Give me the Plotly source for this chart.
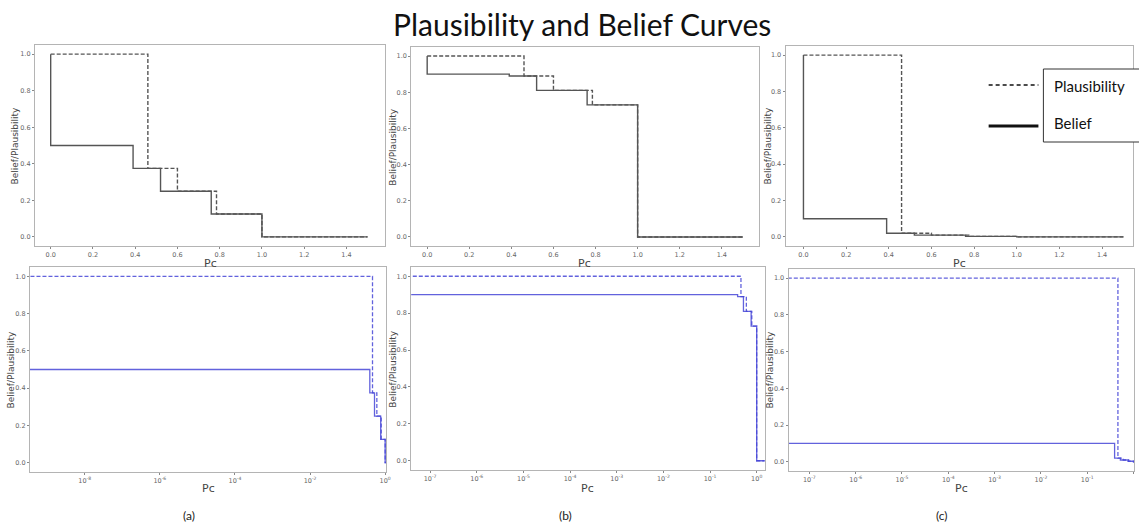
import plotly.graph_objects as go

# ---------------- data ----------------
pc_bel = [0.0, 0.0, 0.39, 0.52, 0.76, 1.0, 1.5]
pc_pl = [0.0, 0.46, 0.60, 0.785, 1.0, 1.5]
LOG_ZERO = 1e-12  # stand-in for Pc = 0 on log axes

bel_a = [1.0, 0.5, 0.375, 0.25, 0.125, 0.0, 0.0]
pl_a = [1.0, 0.375, 0.25, 0.125, 0.0, 0.0]
bel_b = [1.0, 0.90, 0.89, 0.81, 0.73, 0.0, 0.0]
pl_b = [1.0, 0.89, 0.81, 0.73, 0.0, 0.0]
bel_c = [1.0, 0.10, 0.02, 0.01, 0.003, 0.0, 0.0]
pl_c = [1.0, 0.02, 0.01, 0.003, 0.0, 0.0]

panels = ["(a)", "(b)", "(c)"]
yticks = [0.0, 0.2, 0.4, 0.6, 0.8, 1.0]
xticks_lin = [0.0, 0.2, 0.4, 0.6, 0.8, 1.0, 1.2, 1.4]
log_ticks_a = [-8, -6, -4, -2, 0]
log_ticks_bc = [-7, -6, -5, -4, -3, -2, -1, 0]

W, H = 1139, 524
def fx(p): return p / W
def fy(p): return 1 - p / H

GRAY = "#555555"
BLUE = "rgba(70,70,215,0.85)"
FRAME = "#b4b4b4"
TICKFONT = dict(family="DejaVu Sans", size=6.5, color="#666666")
DASH = "4px,2px"

fig = go.Figure()

def logx(xs):
    return [LOG_ZERO if v <= 0 else v for v in xs]

data = [(bel_a, pl_a), (bel_b, pl_b), (bel_c, pl_c)]
for i, (bel, pl) in enumerate(data):
    xa = "x" if i == 0 else f"x{i+1}"
    ya = "y" if i == 0 else f"y{i+1}"
    fig.add_trace(go.Scatter(x=pc_pl, y=pl, mode="lines", line_shape="hv",
                             line=dict(color=GRAY, width=1.4, dash=DASH),
                             xaxis=xa, yaxis=ya, showlegend=False))
    fig.add_trace(go.Scatter(x=pc_bel, y=bel, mode="lines", line_shape="hv",
                             line=dict(color=GRAY, width=1.4),
                             xaxis=xa, yaxis=ya, showlegend=False))
    xb = f"x{i+4}"
    yb = f"y{i+4}"
    fig.add_trace(go.Scatter(x=logx(pc_pl), y=pl, mode="lines", line_shape="hv",
                             line=dict(color=BLUE, width=1.3, dash=DASH),
                             xaxis=xb, yaxis=yb, showlegend=False))
    fig.add_trace(go.Scatter(x=logx(pc_bel), y=bel, mode="lines", line_shape="hv",
                             line=dict(color=BLUE, width=1.3),
                             xaxis=xb, yaxis=yb, showlegend=False))

# frames in pixels: (left, right, top, bottom)
top_frames = [(35, 387, 45, 246), (413, 762, 47, 246), (789, 1138, 46, 246)]
top_xr = [[-0.075, 1.584], [-0.076, 1.575], [-0.084, 1.545]]
bot_frames = [(30, 388, 267, 472), (413, 768, 267, 470), (792, 1139, 269, 471)]
bot_xr = [[-9.46, 0.03], [-7.405, 0.17], [-7.45, 0.01]]
bot_ticks = [log_ticks_a, log_ticks_bc, log_ticks_bc]

# axis-title positions in pixels
ytitle_x_top = [15, 394, 771]
ytitle_x_bot = [11, 394, 773]
xtitle_y_top = 263
xtitle_y_bot = 488

common = dict(showline=True, mirror=True, linecolor=FRAME, linewidth=1,
              showgrid=False, zeroline=False, ticks="outside", ticklen=2,
              tickcolor="#888888", tickfont=TICKFONT)

lay = {}
annotations = []
YT_FONT = dict(family="DejaVu Sans", size=9, color="#444444")
XT_FONT = dict(family="DejaVu Sans", size=11, color="#444444")
for i in range(3):
    l, r, t, b = top_frames[i]
    sx = "" if i == 0 else str(i + 1)
    lay[f"xaxis{sx}"] = dict(domain=[fx(l), fx(r)], range=top_xr[i],
                             anchor=f"y{sx}", tickvals=xticks_lin,
                             tickformat=".1f", **common)
    lay[f"yaxis{sx}"] = dict(domain=[fy(b), fy(t)], range=[-0.05, 1.05],
                             anchor=f"x{sx}", tickvals=yticks, tickformat=".1f",
                             **common)
    annotations.append(dict(text="Belief/Plausibility", textangle=-90,
                            x=fx(ytitle_x_top[i]), y=fy((t + b) / 2),
                            xref="paper", yref="paper", showarrow=False,
                            xanchor="center", yanchor="middle", font=YT_FONT))
    annotations.append(dict(text="Pc", x=fx((l + r) / 2), y=fy(xtitle_y_top),
                            xref="paper", yref="paper", showarrow=False,
                            xanchor="center", yanchor="middle", font=XT_FONT))
    l, r, t, b = bot_frames[i]
    k = i + 4
    lay[f"xaxis{k}"] = dict(domain=[fx(l), fx(r)], range=bot_xr[i], type="log",
                            anchor=f"y{k}",
                            tickvals=[10 ** e for e in bot_ticks[i]],
                            ticktext=[f"10<sup>{e}</sup>" for e in bot_ticks[i]],
                            **common)
    lay[f"yaxis{k}"] = dict(domain=[fy(b), fy(t)], range=[-0.05, 1.05],
                            anchor=f"x{k}", tickvals=yticks, tickformat=".1f",
                            **common)
    annotations.append(dict(text="Belief/Plausibility", textangle=-90,
                            x=fx(ytitle_x_bot[i]), y=fy((t + b) / 2),
                            xref="paper", yref="paper", showarrow=False,
                            xanchor="center", yanchor="middle", font=YT_FONT))
    annotations.append(dict(text="Pc", x=fx((l + r) / 2), y=fy(xtitle_y_bot),
                            xref="paper", yref="paper", showarrow=False,
                            xanchor="center", yanchor="middle", font=XT_FONT))

annotations += [
    dict(text="Plausibility and Belief Curves", x=fx(585), y=fy(24),
         xref="paper", yref="paper", showarrow=False,
         font=dict(family="Lato", size=30, color="#111111"),
         xanchor="center", yanchor="middle"),
    dict(text="Plausibility", x=fx(1057), y=fy(86), xref="paper", yref="paper",
         showarrow=False, xanchor="left", yanchor="middle",
         font=dict(family="Lato", size=15, color="#111111")),
    dict(text="Belief", x=fx(1057), y=fy(123), xref="paper", yref="paper",
         showarrow=False, xanchor="left", yanchor="middle",
         font=dict(family="Lato", size=15, color="#111111")),
]
for lbl, cx in zip(panels, [190, 568, 946]):
    annotations.append(dict(text=lbl, x=fx(cx), y=fy(515), xref="paper", yref="paper",
                            showarrow=False, xanchor="center", yanchor="middle",
                            font=dict(family="Lato", size=12, color="#222222")))

shapes = [
    dict(type="rect", xref="paper", yref="paper", x0=fx(1048), x1=fx(1145),
         y0=fy(142), y1=fy(69), line=dict(color="#333333", width=1),
         fillcolor="white", layer="above"),
    dict(type="line", xref="paper", yref="paper", x0=fx(993), x1=fx(1043),
         y0=fy(85), y1=fy(85), line=dict(color="#111111", width=1.3, dash="4px,3px")),
    dict(type="line", xref="paper", yref="paper", x0=fx(993), x1=fx(1043),
         y0=fy(126), y1=fy(126), line=dict(color="#111111", width=3)),
]

fig.update_layout(width=W, height=H, margin=dict(l=0, r=0, t=0, b=0),
                  paper_bgcolor="white", plot_bgcolor="white",
                  annotations=annotations, shapes=shapes, **lay)

fig.write_html("out.html")
